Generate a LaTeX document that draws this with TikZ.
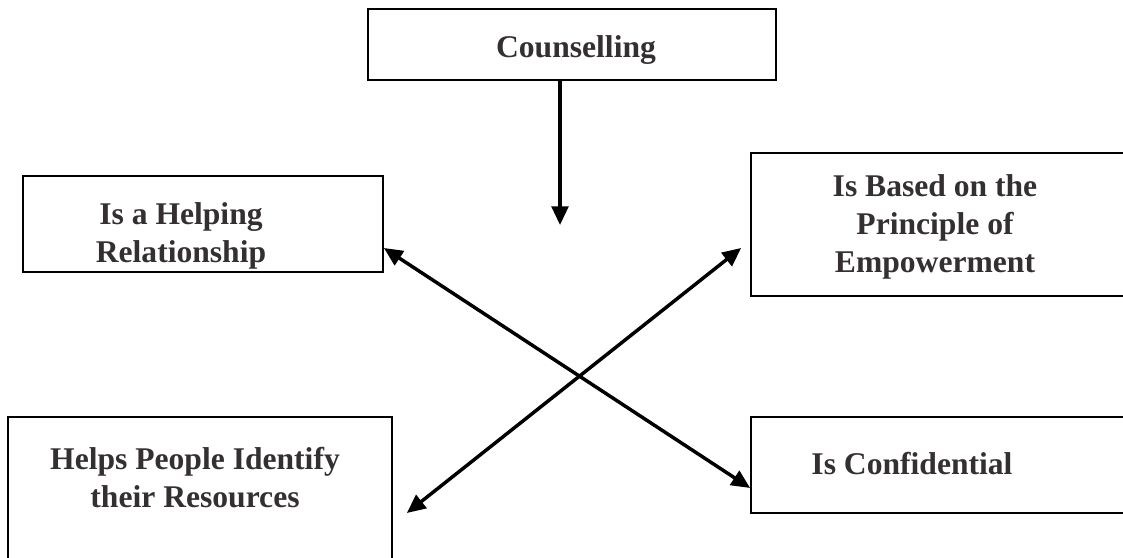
\documentclass[tikz,border=0pt]{standalone}
\usepackage{fontspec}
\setmainfont{Liberation Serif}
\usetikzlibrary{arrows.meta,positioning,calc}
\definecolor{txtgray}{RGB}{52,48,50}

\begin{document}
\begin{tikzpicture}[x=0.75pt,y=-0.75pt,
  box/.style={draw,line width=1.3pt,inner sep=0pt},
  txt/.style={font=\fontsize{23.7}{28.5}\selectfont\bfseries,text=txtgray,align=center,anchor=base,inner sep=0pt},
  link/.style={line width=2.6pt,-{Triangle[length=14pt,width=12.5pt]}},
  dlink/.style={line width=2.6pt,{Triangle[length=14pt,width=12.5pt]}-{Triangle[length=14pt,width=12.5pt]}}]
  \clip (0,0) rectangle (1123,557);
  % boxes
  \node[box,minimum width=306pt,minimum height=53.25pt] (cbox) at (572,44.5) {};
  \node[box,minimum width=270pt,minimum height=72pt] (hbox) at (203,224) {};
  \node[box,minimum width=284.25pt,minimum height=107.25pt] (ebox) at (940.5,224.5) {};
  \node[box,minimum width=284.25pt,minimum height=72pt] (fbox) at (940.5,465) {};
  \node[box,minimum width=288pt,minimum height=144pt] (rbox) at (200,513) {};
  % texts
  \node[txt] (ctxt) at (576,57) {Counselling};
  \node[txt] (htxt) at (181,262) {Is a Helping\\Relationship};
  \node[txt] (etxt) at (935,272) {Is Based on the\\Principle of\\Empowerment};
  \node[txt] (ftxt) at (912,474) {Is Confidential};
  \node[txt] (rtxt) at (195,507) {Helps People Identify\\their Resources};
  % arrows
  \coordinate (cend) at (560,225);
  \draw[link] ([xshift=-9pt]cbox.south) -- (cend);
  \draw[dlink] ([yshift=-18pt]hbox.east) -- ([yshift=-17.25pt]fbox.west);
  \draw[dlink] ([xshift=10.5pt]rbox.east) -- ([xshift=-6.75pt,yshift=-17.6pt]ebox.west);
\end{tikzpicture}
\end{document}
